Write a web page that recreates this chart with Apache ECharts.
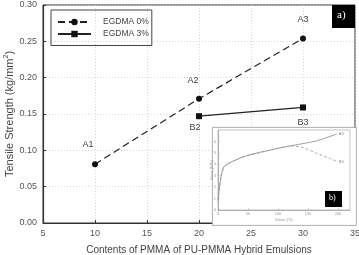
<!DOCTYPE html>
<html>
<head>
<meta charset="utf-8">
<script src="https://cdn.jsdelivr.net/npm/echarts@6/dist/echarts.min.js"></script>
<style>
  html, body { margin: 0; padding: 0; background: #fff; }
  #chart { width: 359px; height: 255px; }
</style>
</head>
<body>
<div id="chart"></div>
<script>
// main plot: tensile strength vs PMMA content
var pmmaA = [10, 20, 30]
var strengthA = [0.081, 0.171, 0.254]
var pointLabelsA = ['A1', 'A2', 'A3']
var pmmaB = [20, 30]
var strengthB = [0.147, 0.159]
var pointLabelsB = ['B2', 'B3']
var seriesNames = ['EGDMA 0%', 'EGDMA 3%']

// inset: stress-strain curves
var strainA3 = [0, 2, 4, 6, 10, 18, 35, 50, 92, 125, 164, 198]
var stressA3 = [0.9, 1.8, 2.6, 3.2, 3.8, 4.1, 4.5, 4.8, 5.3, 5.65, 6.05, 6.65]
var strainB3 = [0, 2, 4, 6, 10, 18, 35, 50, 92, 122, 142, 164, 187, 198]
var stressB3 = [0.8, 1.7, 2.5, 3.1, 3.7, 4.05, 4.5, 4.75, 5.3, 5.6, 5.45, 4.97, 4.5, 4.25]

var FONT = 'Liberation Sans, Arial, sans-serif'
var chart = echarts.init(document.getElementById('chart'))

function pairs(xs, ys) {
    return xs.map(function (x, i) { return [x, ys[i]] })
}

// label offsets per point
var offA = [[-7, -11], [-6, -10], [0, -10]]
var offB = [[-4, 3], [0, 7]]

var dataA = pairs(pmmaA, strengthA).map(function (p, i) {
    return { value: p, label: { formatter: pointLabelsA[i], position: 'top', distance: 0, offset: offA[i] } }
})
var dataB = pairs(pmmaB, strengthB).map(function (p, i) {
    return { value: p, label: { formatter: pointLabelsB[i], position: 'bottom', distance: 0, offset: offB[i] } }
})

var insetAxisStyle = {
    nameMoveOverlap: false,
    axisLine: { show: true, lineStyle: { color: '#999', width: 0.7 } },
    axisTick: { show: true, inside: true, length: 1.5, lineStyle: { color: '#999', width: 0.6 } },
    axisLabel: { fontSize: 4, color: '#999', margin: 2, fontFamily: FONT, showMaxLabel: false },
    splitLine: { show: false }
}

var option = {
    animation: false,
    textStyle: { fontFamily: FONT },
    legend: {
        left: 51,
        top: 10,
        orient: 'vertical',
        data: seriesNames,
        borderColor: '#444',
        borderWidth: 1,
        padding: [7.5, 3, 7, 6],
        itemWidth: 33,
        itemHeight: 8,
        itemGap: 3,
        textStyle: { fontSize: 8.5, color: '#444', lineHeight: 8, padding: [0, 0, 0, 7], fontFamily: FONT }
    },
    grid: [
        { left: 43, right: 4, top: 5, bottom: 32, show: true, borderColor: '#333', borderWidth: 1, outerBoundsMode: 'none' },
        { left: 218, right: 9, top: 130, bottom: 45, show: true, borderColor: '#aaa', borderWidth: 0.7, z: 3, outerBoundsMode: 'none' }
    ],
    xAxis: [{
        type: 'value',
        gridIndex: 0,
        min: 5,
        max: 35,
        interval: 5,
        name: 'Contents of PMMA of PU-PMMA Hybrid Emulsions',
        nameLocation: 'middle',
        nameMoveOverlap: false,
        nameGap: 22,
        nameTextStyle: { fontSize: 10, color: '#444', fontFamily: FONT },
        axisLine: { lineStyle: { color: '#333', width: 1.2 } },
        axisTick: { inside: true, length: 3, lineStyle: { color: '#333' } },
        axisLabel: { fontSize: 9, color: '#555', margin: 6 },
        splitLine: { show: true, lineStyle: { color: '#ccc', type: [1, 2], width: 0.8 } }
    }, Object.assign({
        type: 'value',
        gridIndex: 1,
        min: 0,
        max: 220,
        interval: 50,
        z: 4,
        name: 'Strain (%)',
        nameLocation: 'middle',
        nameGap: 8,
        nameTextStyle: { fontSize: 4, color: '#999' }
    }, insetAxisStyle)],
    yAxis: [{
        type: 'value',
        gridIndex: 0,
        min: 0,
        max: 0.3,
        interval: 0.05,
        name: 'Tensile Strength (kg/mm{sup|2})',
        nameLocation: 'middle',
        nameMoveOverlap: false,
        nameGap: 27,
        nameTextStyle: {
            fontSize: 11, color: '#444', fontFamily: FONT,
            rich: { sup: { fontSize: 7, color: '#444', verticalAlign: 'top', padding: [0, 0, 6, 0] } }
        },
        axisLine: { lineStyle: { color: '#333', width: 1.2 } },
        axisTick: { inside: true, length: 3, lineStyle: { color: '#333' } },
        axisLabel: { fontSize: 9, color: '#555', margin: 6, formatter: function (v) { return v.toFixed(2) } },
        splitLine: { show: true, lineStyle: { color: '#ccc', type: [1, 2], width: 0.8 } }
    }, Object.assign({
        type: 'value',
        gridIndex: 1,
        min: 0,
        max: 7,
        interval: 1,
        z: 4,
        name: 'Stress (MPa)',
        nameLocation: 'middle',
        nameGap: 4,
        nameTextStyle: { fontSize: 3.5, color: '#999' }
    }, insetAxisStyle)],
    graphic: [
        // inset frame
        { type: 'rect', left: 212, top: 127, shape: { width: 144, height: 98 }, style: { fill: '#fff', stroke: '#999', lineWidth: 0.8 }, z: 2 },
        // a) tag
        { type: 'rect', left: 332, top: 5, shape: { width: 23, height: 23 }, style: { fill: '#000' }, z: 10 },
        { type: 'text', left: 337, top: 10, style: { text: 'a)', fill: '#fff', fontSize: 11, fontFamily: 'Liberation Serif, serif' }, z: 11 },
        // b) tag
        { type: 'rect', left: 325, top: 191, shape: { width: 17, height: 16 }, style: { fill: '#000' }, z: 10 },
        { type: 'text', left: 329, top: 194, style: { text: 'b)', fill: '#fff', fontSize: 8, fontFamily: 'Liberation Serif, serif' }, z: 11 }
    ],
    series: [{
        name: seriesNames[0],
        type: 'line',
        xAxisIndex: 0,
        yAxisIndex: 0,
        data: dataA,
        symbol: 'circle',
        symbolSize: 6,
        itemStyle: { color: '#111' },
        lineStyle: { color: '#222', width: 1.2, type: [7, 4] },
        label: { show: true, fontSize: 9, color: '#444', lineHeight: 11 }
    }, {
        name: seriesNames[1],
        type: 'line',
        xAxisIndex: 0,
        yAxisIndex: 0,
        data: dataB,
        symbol: 'rect',
        symbolSize: 6,
        itemStyle: { color: '#111' },
        lineStyle: { color: '#222', width: 1.2 },
        label: { show: true, fontSize: 9, color: '#444', lineHeight: 11 }
    }, {
        name: 'A3',
        type: 'line',
        xAxisIndex: 1,
        yAxisIndex: 1,
        data: pairs(strainA3, stressA3),
        symbol: 'none',
        smooth: 0.3,
        z: 5,
        lineStyle: { color: '#888', width: 0.8 },
        endLabel: { show: true, formatter: 'A3', fontSize: 4, color: '#888', distance: 2 }
    }, {
        name: 'B3',
        type: 'line',
        xAxisIndex: 1,
        yAxisIndex: 1,
        data: pairs(strainB3, stressB3),
        symbol: 'none',
        smooth: 0.3,
        z: 5,
        lineStyle: { color: '#999', width: 0.8, type: [3, 2] },
        endLabel: { show: true, formatter: 'B3', fontSize: 4, color: '#888', distance: 2 }
    }]
}

chart.setOption(option)
</script>
</body>
</html>
